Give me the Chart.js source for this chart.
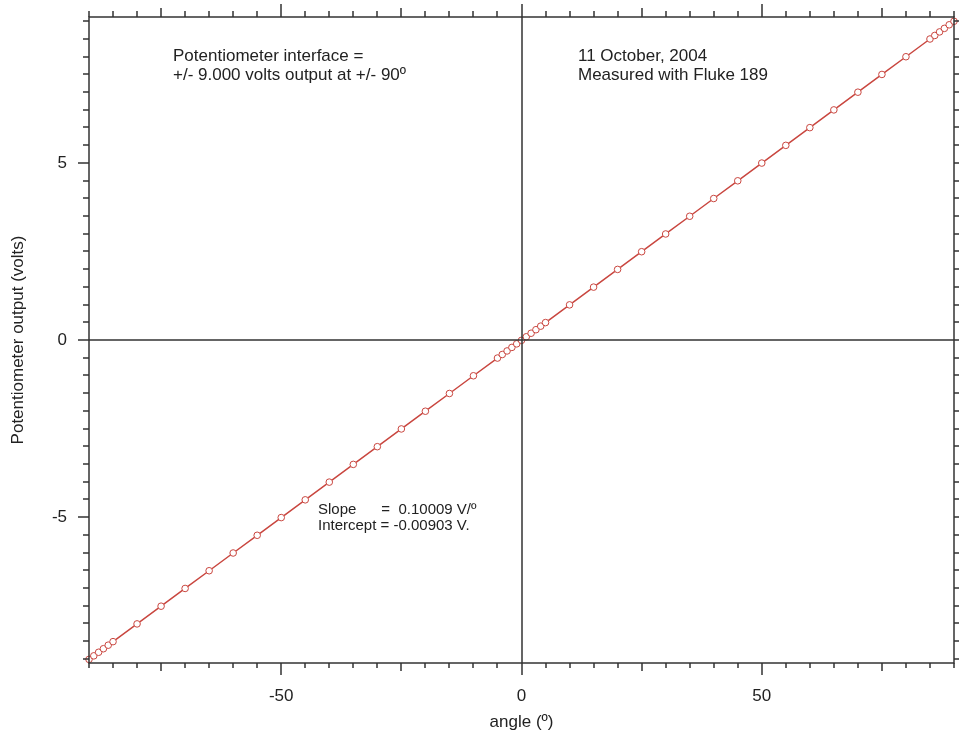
<!DOCTYPE html>
<html>
<head>
<meta charset="utf-8">
<script src="https://cdn.jsdelivr.net/npm/chart.js@4/dist/chart.umd.min.js"></script>
<style>
  html, body { margin: 0; padding: 0; background: #fff; }
  #wrap { width: 959px; height: 737px; }
</style>
</head>
<body>
<div id="wrap"><canvas id="chart" width="959" height="737"></canvas></div>
<script>
// measured angles (degrees) and potentiometer output (volts)
const angles = [-90, -89, -88, -87, -86, -85, -80, -75, -70, -65, -60, -55, -50, -45, -40, -35,
    -30, -25, -20, -15, -10, -5, -4, -3, -2, -1, 0, 1, 2, 3, 4, 5, 10, 15, 20, 25, 30, 35, 40,
    45, 50, 55, 60, 65, 70, 75, 80, 85, 86, 87, 88, 89, 90];
const volts = [-9.018, -8.918, -8.817, -8.717, -8.617, -8.517, -8.016, -7.516, -7.015, -6.515,
    -6.014, -5.514, -5.014, -4.513, -4.013, -3.512, -3.012, -2.511, -2.011, -1.510, -1.010,
    -0.510, -0.409, -0.309, -0.209, -0.109, -0.009, 0.091, 0.191, 0.291, 0.391, 0.492, 0.992,
    1.493, 1.993, 2.493, 2.994, 3.494, 3.995, 4.495, 4.996, 5.496, 5.996, 6.497, 6.997, 7.498,
    7.998, 8.499, 8.599, 8.699, 8.799, 8.900, 9.000];

// tick labels shown on each axis
const xLabels = [-50, 0, 50];
const yLabels = [-5, 0, 5];

const lineColor = '#c9463f';
const textColor = '#222';
const font = 'Liberation Sans, Arial, sans-serif';

// frame, zero lines and outward tick marks on all four sides
const framePlugin = {
    id: 'frame',
    afterDatasetsDraw(chart) {
        const ctx = chart.ctx;
        const a = chart.chartArea;
        const xs = chart.scales.x;
        const ys = chart.scales.y;
        ctx.save();
        ctx.strokeStyle = '#333';
        ctx.lineWidth = 1.5;

        // zero lines
        const x0 = Math.round(xs.getPixelForValue(0));
        const y0 = Math.round(ys.getPixelForValue(0));
        ctx.beginPath();
        ctx.moveTo(x0, a.top); ctx.lineTo(x0, a.bottom);
        ctx.moveTo(a.left, y0); ctx.lineTo(a.right, y0);
        ctx.stroke();

        ctx.strokeRect(a.left, a.top, a.right - a.left, a.bottom - a.top);

        ctx.beginPath();
        for (let v = -90; v <= 90; v += 5) {
            const px = Math.round(xs.getPixelForValue(v));
            let len = 5;
            if (v % 50 === 0) len = 12;
            else if (v % 25 === 0) len = 8;
            ctx.moveTo(px, a.bottom); ctx.lineTo(px, a.bottom + len);
            ctx.moveTo(px, a.top); ctx.lineTo(px, a.top - len - 1);
        }
        for (let v = -9; v <= 9; v += 0.5) {
            const py = Math.round(ys.getPixelForValue(v));
            const len = (v % 5 === 0) ? 11 : 6;
            ctx.moveTo(a.left, py); ctx.lineTo(a.left - len, py);
            ctx.moveTo(a.right, py); ctx.lineTo(a.right + len, py);
        }
        ctx.stroke();

        // annotations
        ctx.fillStyle = textColor;
        ctx.textBaseline = 'middle';
        ctx.textAlign = 'left';
        ctx.font = '17px ' + font;
        ctx.fillText('Potentiometer interface =', 173, 56);
        ctx.fillText('+/- 9.000 volts output at +/- 90º', 173, 75);
        ctx.fillText('11 October, 2004', 578, 56);
        ctx.fillText('Measured with Fluke 189', 578, 75);
        ctx.font = '15px ' + font;
        ctx.fillText('Slope      =  0.10009 V/º', 318, 510);
        ctx.fillText('Intercept = -0.00903 V.', 318, 526);
        ctx.restore();
    }
};

const ctx = document.getElementById('chart').getContext('2d');
const chart = new Chart(ctx, {
    type: 'scatter',
    data: {
        datasets: [{
            label: 'output',
            data: angles.map((a, i) => ({ x: a, y: volts[i] })),
            showLine: true,
            borderColor: lineColor,
            borderWidth: 1.5,
            pointRadius: 3.3,
            pointBorderWidth: 1,
            pointBorderColor: lineColor,
            pointBackgroundColor: '#fff',
            clip: 5
        }]
    },
    options: {
        responsive: false,
        animation: false,
        layout: { padding: { left: 0, right: 4, top: 17, bottom: 0 } },
        plugins: {
            legend: { display: false },
            tooltip: { enabled: false }
        },
        scales: {
            x: {
                type: 'linear',
                min: -90,
                max: 90,
                grid: { display: false },
                border: { display: false },
                afterFit(scale) {
                    scale.height = 74;
                    scale.paddingLeft = 0;
                    scale.paddingRight = 0;
                },
                afterBuildTicks(scale) { scale.ticks = xLabels.map(v => ({ value: v })); },
                ticks: {
                    padding: 15,
                    color: textColor,
                    font: { family: font, size: 17 },
                    maxRotation: 0
                },
                title: {
                    display: true,
                    text: 'angle (º)',
                    color: textColor,
                    font: { family: font, size: 17 },
                    padding: { top: 0, bottom: 4 }
                }
            },
            y: {
                type: 'linear',
                min: -9.12,
                max: 9.12,
                grid: { display: false },
                border: { display: false },
                afterFit(scale) {
                    scale.width = 89;
                    scale.paddingTop = 0;
                    scale.paddingBottom = 0;
                },
                afterBuildTicks(scale) { scale.ticks = yLabels.map(v => ({ value: v })); },
                ticks: {
                    padding: 14,
                    color: textColor,
                    font: { family: font, size: 17 }
                },
                title: {
                    display: true,
                    text: 'Potentiometer output (volts)',
                    color: textColor,
                    font: { family: font, size: 17 },
                    padding: { top: 8, bottom: 8 }
                }
            }
        }
    },
    plugins: [framePlugin]
});
</script>
</body>
</html>
